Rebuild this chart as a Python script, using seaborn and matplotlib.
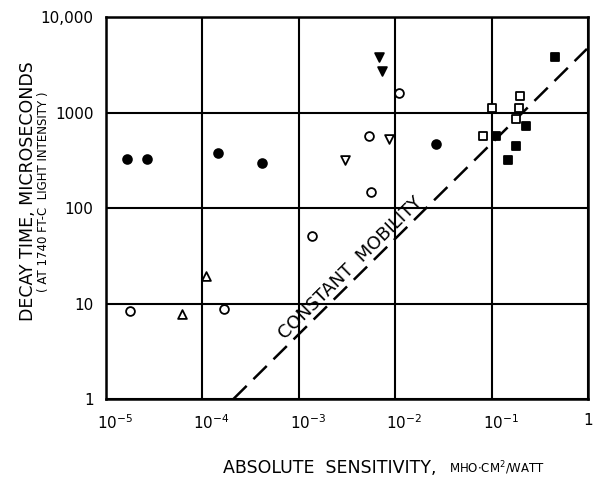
import numpy as np
import pandas as pd
import matplotlib
matplotlib.use("Agg")
import matplotlib.pyplot as plt
import matplotlib.transforms as mtransforms
import seaborn as sns

sns.set_theme(style="white")
plt.rcParams['font.family'] = ['DejaVu Sans']

# Data (sensitivity in mho*cm^2/watt, decay time in microseconds)
filled_circle_x = [1.64e-5, 2.68e-5, 1.44e-4, 4.18e-4, 0.0265]
filled_circle_y = [326, 326, 374, 296, 464]

open_circle_x = [1.77e-5, 1.68e-4, 1.38e-3, 5.38e-3, 5.57e-3, 0.0108]
open_circle_y = [8.4, 8.7, 50.9, 572, 148, 1611]

open_tri_up_x = [6.1e-5, 1.09e-4]
open_tri_up_y = [7.7, 19.5]

open_tri_down_x = [3.01e-3, 8.69e-3]
open_tri_down_y = [318, 524]

filled_tri_down_x = [6.79e-3, 7.24e-3]
filled_tri_down_y = [3835, 2722]

open_square_x = [0.0809, 0.197, 0.1016, 0.192, 0.178]
open_square_y = [572, 1500, 1122, 1106, 855]

filled_square_x = [0.110, 0.226, 0.179, 0.149, 0.455]
filled_square_y = [572, 728, 446, 318, 3784]

line_x = [2.09e-4, 0.97]
mobility_const = 4780.0  # tau = k * S
label_x = 4.09e-3

x_ticks = [1e-5, 1e-4, 1e-3, 1e-2, 1e-1, 1]
x_tick_labels = [r'$10^{-5}$', r'$10^{-4}$', r'$10^{-3}$', r'$10^{-2}$', r'$10^{-1}$', '1']
y_ticks = [1, 10, 100, 1000, 10000]
y_tick_labels = ['1', '10', '100', '1000', '10,000']

fig = plt.figure(figsize=(5.99, 4.79), dpi=100)
ax = fig.add_axes([0.177, 0.167, 0.805, 0.7975])

ms = 40
groups = [
    (filled_circle_x, filled_circle_y, 'o', 'black'),
    (open_circle_x, open_circle_y, 'o', 'white'),
    (open_tri_up_x, open_tri_up_y, '^', 'white'),
    (open_tri_down_x, open_tri_down_y, 'v', 'white'),
    (filled_tri_down_x, filled_tri_down_y, 'v', 'black'),
    (open_square_x, open_square_y, 's', 'white'),
    (filled_square_x, filled_square_y, 's', 'black'),
]
for gx, gy, m, fc in groups:
    df = pd.DataFrame({'x': gx, 'y': gy})
    sns.scatterplot(data=df, x='x', y='y', marker=m, s=ms, facecolor=fc,
                    edgecolor='black', linewidth=1.3, ax=ax, zorder=5)

lx = np.array(line_x)
sns.lineplot(x=lx, y=mobility_const * lx, ax=ax, color='black', linewidth=1.8,
             zorder=4)
ax.lines[-1].set_dashes([7.5, 3.8])

ax.set_xscale('log')
ax.set_yscale('log')
ax.set_xlim(1e-5, 1)
ax.set_ylim(1, 10000)

ax.set_xticks(x_ticks)
ax.set_xticklabels(x_tick_labels, fontsize=11)
ax.set_yticks(y_ticks)
ax.set_yticklabels(y_tick_labels, fontsize=11)
ax.minorticks_off()
ax.tick_params(axis='x', length=0, pad=10, colors='black')
ax.tick_params(axis='y', length=0, pad=9, colors='black')

shift = mtransforms.ScaledTranslation(9 / 100, 0, fig.dpi_scale_trans)
for lab in ax.get_xticklabels()[:-1]:
    lab.set_transform(lab.get_transform() + shift)

ax.grid(True, which='major', color='black', linewidth=1.5)
for s in ax.spines.values():
    s.set_color('black')
    s.set_linewidth(1.8)

ax.set_xlabel('')
ax.set_ylabel('')

# Line annotation
ax.annotate('CONSTANT  MOBILITY', xy=(label_x, mobility_const * label_x),
            xytext=(-5.4, 5.4), textcoords='offset points', rotation=44.7,
            rotation_mode='anchor', ha='center', va='center', fontsize=13,
            color='black', zorder=6)

fig.text(0.047, 0.60, 'DECAY TIME, MICROSECONDS', rotation=90, ha='center',
         va='center', fontsize=12.5, color='black')
fig.text(0.073, 0.60, '( AT 1740 FT-C  LIGHT INTENSITY )', rotation=90,
         ha='center', va='center', fontsize=8.5, color='black')

fig.text(0.728, 0.012, 'ABSOLUTE  SENSITIVITY,', ha='right', va='baseline',
         fontsize=12.5, color='black')
fig.text(0.750, 0.012, r'MHO$\cdot$CM$^2$/WATT', ha='left', va='baseline',
         fontsize=8.5, color='black')

fig.savefig('out.png', dpi=100)
